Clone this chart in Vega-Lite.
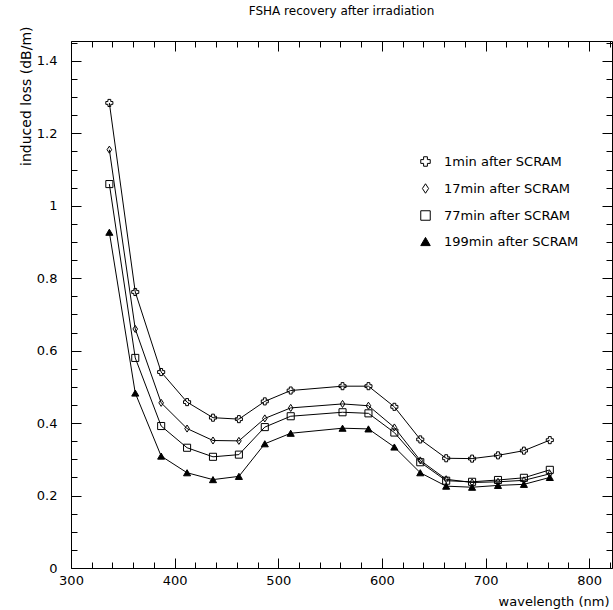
{
  "$schema": "https://vega.github.io/schema/vega-lite/v6.json",
  "autosize": {"type": "none"},
  "padding": {"left": 71, "top": 41, "right": 1, "bottom": 42},
  "width": 541,
  "height": 527,
  "background": "white",
  "title": {"text": "FSHA recovery after irradiation", "font": "DejaVu Sans", "fontSize": 12, "fontWeight": "normal", "color": "black", "anchor": "middle", "offset": 8},
  "config": {
    "view": {"stroke": "black", "strokeWidth": 1},
    "axis": {"grid": false, "domain": false, "tickColor": "black", "tickWidth": 1, "labelColor": "black", "labelFont": "DejaVu Sans", "labelFontSize": 13, "titleFont": "DejaVu Sans", "titleFontSize": 13, "titleFontWeight": "normal", "titleColor": "black"},
    "legend": {"orient": "none", "legendX": 348, "legendY": 114, "title": null, "labelFont": "DejaVu Sans", "labelFontSize": 13, "labelColor": "black", "symbolSize": 90, "symbolStrokeWidth": 1, "rowPadding": 12, "labelOffset": 12}
  },
  "data": {"values": [
    {"s": "1min after SCRAM", "wl": 337, "v": 1.284}, {"s": "1min after SCRAM", "wl": 362, "v": 0.762}, {"s": "1min after SCRAM", "wl": 387, "v": 0.541}, {"s": "1min after SCRAM", "wl": 412, "v": 0.458}, {"s": "1min after SCRAM", "wl": 437, "v": 0.415}, {"s": "1min after SCRAM", "wl": 462, "v": 0.411}, {"s": "1min after SCRAM", "wl": 487, "v": 0.46}, {"s": "1min after SCRAM", "wl": 512, "v": 0.49}, {"s": "1min after SCRAM", "wl": 562, "v": 0.502}, {"s": "1min after SCRAM", "wl": 587, "v": 0.502}, {"s": "1min after SCRAM", "wl": 612, "v": 0.445}, {"s": "1min after SCRAM", "wl": 637, "v": 0.355}, {"s": "1min after SCRAM", "wl": 662, "v": 0.303}, {"s": "1min after SCRAM", "wl": 687, "v": 0.302}, {"s": "1min after SCRAM", "wl": 712, "v": 0.311}, {"s": "1min after SCRAM", "wl": 737, "v": 0.324}, {"s": "1min after SCRAM", "wl": 762, "v": 0.353},
    {"s": "17min after SCRAM", "wl": 337, "v": 1.155}, {"s": "17min after SCRAM", "wl": 362, "v": 0.66}, {"s": "17min after SCRAM", "wl": 387, "v": 0.456}, {"s": "17min after SCRAM", "wl": 412, "v": 0.385}, {"s": "17min after SCRAM", "wl": 437, "v": 0.352}, {"s": "17min after SCRAM", "wl": 462, "v": 0.351}, {"s": "17min after SCRAM", "wl": 487, "v": 0.413}, {"s": "17min after SCRAM", "wl": 512, "v": 0.442}, {"s": "17min after SCRAM", "wl": 562, "v": 0.453}, {"s": "17min after SCRAM", "wl": 587, "v": 0.448}, {"s": "17min after SCRAM", "wl": 612, "v": 0.388}, {"s": "17min after SCRAM", "wl": 637, "v": 0.297}, {"s": "17min after SCRAM", "wl": 662, "v": 0.245}, {"s": "17min after SCRAM", "wl": 687, "v": 0.236}, {"s": "17min after SCRAM", "wl": 712, "v": 0.238}, {"s": "17min after SCRAM", "wl": 737, "v": 0.242}, {"s": "17min after SCRAM", "wl": 762, "v": 0.26},
    {"s": "77min after SCRAM", "wl": 337, "v": 1.06}, {"s": "77min after SCRAM", "wl": 362, "v": 0.58}, {"s": "77min after SCRAM", "wl": 387, "v": 0.392}, {"s": "77min after SCRAM", "wl": 412, "v": 0.332}, {"s": "77min after SCRAM", "wl": 437, "v": 0.307}, {"s": "77min after SCRAM", "wl": 462, "v": 0.313}, {"s": "77min after SCRAM", "wl": 487, "v": 0.389}, {"s": "77min after SCRAM", "wl": 512, "v": 0.419}, {"s": "77min after SCRAM", "wl": 562, "v": 0.43}, {"s": "77min after SCRAM", "wl": 587, "v": 0.427}, {"s": "77min after SCRAM", "wl": 612, "v": 0.374}, {"s": "77min after SCRAM", "wl": 637, "v": 0.292}, {"s": "77min after SCRAM", "wl": 662, "v": 0.241}, {"s": "77min after SCRAM", "wl": 687, "v": 0.238}, {"s": "77min after SCRAM", "wl": 712, "v": 0.243}, {"s": "77min after SCRAM", "wl": 737, "v": 0.249}, {"s": "77min after SCRAM", "wl": 762, "v": 0.271},
    {"s": "199min after SCRAM", "wl": 337, "v": 0.927}, {"s": "199min after SCRAM", "wl": 362, "v": 0.483}, {"s": "199min after SCRAM", "wl": 387, "v": 0.309}, {"s": "199min after SCRAM", "wl": 412, "v": 0.263}, {"s": "199min after SCRAM", "wl": 437, "v": 0.244}, {"s": "199min after SCRAM", "wl": 462, "v": 0.253}, {"s": "199min after SCRAM", "wl": 487, "v": 0.343}, {"s": "199min after SCRAM", "wl": 512, "v": 0.372}, {"s": "199min after SCRAM", "wl": 562, "v": 0.386}, {"s": "199min after SCRAM", "wl": 587, "v": 0.384}, {"s": "199min after SCRAM", "wl": 612, "v": 0.334}, {"s": "199min after SCRAM", "wl": 637, "v": 0.263}, {"s": "199min after SCRAM", "wl": 662, "v": 0.226}, {"s": "199min after SCRAM", "wl": 687, "v": 0.223}, {"s": "199min after SCRAM", "wl": 712, "v": 0.228}, {"s": "199min after SCRAM", "wl": 737, "v": 0.231}, {"s": "199min after SCRAM", "wl": 762, "v": 0.25}
  ]},
  "layer": [
    {
      "mark": {"type": "line", "color": "black", "strokeWidth": 1},
      "encoding": {
        "x": {"field": "wl", "type": "quantitative", "scale": {"domain": [300, 822], "nice": false, "zero": false},
          "axis": {"orient": "bottom", "title": "wavelength (nm)", "values": [300,320,340,360,380,400,420,440,460,480,500,520,540,560,580,600,620,640,660,680,700,720,740,760,780,800,820],
            "tickSize": {"condition": {"test": "datum.value % 100 === 0", "value": -10}, "value": -6},
            "labelExpr": "datum.value % 100 === 0 ? format(datum.value, 'd') : ''",
            "labelPadding": 16, "labelBaseline": "top", "labelFlush": false,
            "titleAlign": "right", "titleBaseline": "middle", "titleX": 538, "titleY": 33}},
        "y": {"field": "v", "type": "quantitative", "scale": {"domain": [0, 1.455], "nice": false},
          "axis": {"orient": "left", "title": "induced loss (dB/m)", "values": [0,0.05,0.1,0.15,0.2,0.25,0.3,0.35,0.4,0.45,0.5,0.55,0.6,0.65,0.7,0.75,0.8,0.85,0.9,0.95,1,1.05,1.1,1.15,1.2,1.25,1.3,1.35,1.4,1.45],
            "tickSize": {"condition": {"test": "abs(datum.value*5 - round(datum.value*5)) < 0.001", "value": -10}, "value": -6},
            "labelExpr": "abs(datum.value*5 - round(datum.value*5)) < 0.001 ? format(datum.value, '~g') : ''",
            "labelPadding": 24, "labelFlush": false,
            "titleFontSize": 14, "titleAngle": -90, "titleAlign": "right", "titleBaseline": "alphabetic", "titleX": -41, "titleY": -15}},
        "detail": {"field": "s", "type": "nominal"}
      }
    },
    {
      "mark": {"type": "point", "strokeWidth": 1, "opacity": 1, "size": 50},
      "encoding": {
        "x": {"field": "wl", "type": "quantitative",
          "axis": {"orient": "top", "title": null, "labels": false, "values": [300,320,340,360,380,400,420,440,460,480,500,520,540,560,580,600,620,640,660,680,700,720,740,760,780,800,820],
            "tickSize": {"condition": {"test": "datum.value % 100 === 0", "value": -10}, "value": -6}}},
        "y": {"field": "v", "type": "quantitative",
          "axis": {"orient": "right", "title": null, "labels": false, "values": [0,0.05,0.1,0.15,0.2,0.25,0.3,0.35,0.4,0.45,0.5,0.55,0.6,0.65,0.7,0.75,0.8,0.85,0.9,0.95,1,1.05,1.1,1.15,1.2,1.25,1.3,1.35,1.4,1.45],
            "tickSize": {"condition": {"test": "abs(datum.value*5 - round(datum.value*5)) < 0.001", "value": -10}, "value": -6}}},
        "shape": {"field": "s", "type": "nominal",
          "scale": {"domain": ["1min after SCRAM", "17min after SCRAM", "77min after SCRAM", "199min after SCRAM"], "range": ["cross", "M0,-1L0.65,0L0,1L-0.65,0Z", "square", "triangle-up"]}},
        "fill": {"field": "s", "type": "nominal",
          "scale": {"domain": ["1min after SCRAM", "17min after SCRAM", "77min after SCRAM", "199min after SCRAM"], "range": ["transparent", "transparent", "transparent", "black"]}},
        "stroke": {"field": "s", "type": "nominal",
          "scale": {"domain": ["1min after SCRAM", "17min after SCRAM", "77min after SCRAM", "199min after SCRAM"], "range": ["black", "black", "black", "black"]}}
      }
    }
  ],
  "resolve": {"axis": {"x": "independent", "y": "independent"}}
}
